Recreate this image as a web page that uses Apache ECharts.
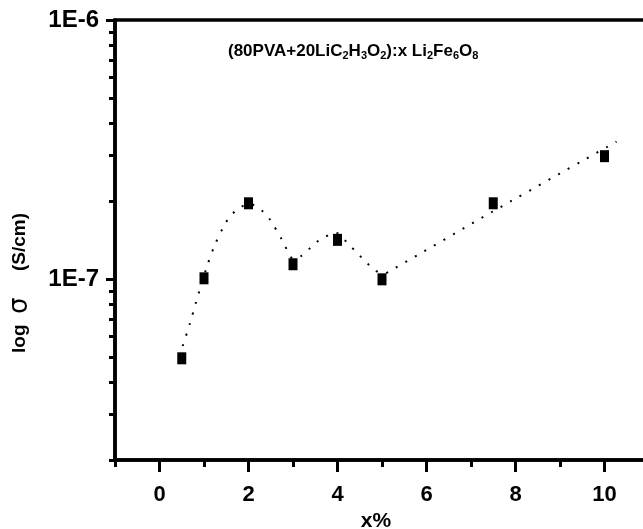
<!DOCTYPE html>
<html>
<head>
<meta charset="utf-8">
<script src="https://cdn.jsdelivr.net/npm/echarts@6/dist/echarts.min.js"></script>
<style>
html,body{margin:0;padding:0;background:#fff;}
#chart{width:643px;height:529px;}
</style>
</head>
<body>
<div id="chart"></div>
<script>
// measured points
const xValues = [0.5, 1, 2, 3, 4, 5, 7.5, 10];
const sigmaValues = [4.94e-8, 1.006e-7, 1.96e-7, 1.14e-7, 1.416e-7, 9.97e-8, 1.96e-7, 2.98e-7];

// dotted fit curve
const fitX = [0.521, 0.679, 0.827, 1.061, 1.240, 1.472, 1.629, 1.831, 2.034, 2.310, 2.490, 2.760, 3.02, 3.209, 3.404, 3.607, 3.966, 4.258, 4.445, 4.634, 4.827, 5.02, 5.218, 7.51, 10.27];
const fitY = [5.51e-8, 6.70e-8, 8.20e-8, 1.110e-7, 1.349e-7, 1.631e-7, 1.778e-7, 1.897e-7, 1.948e-7, 1.83e-7, 1.689e-7, 1.41e-7, 1.194e-7, 1.234e-7, 1.325e-7, 1.418e-7, 1.506e-7, 1.356e-7, 1.259e-7, 1.166e-7, 1.086e-7, 1.046e-7, 1.083e-7, 1.83e-7, 3.39e-7];

// ticks
const xMajorTicks = [0, 2, 4, 6, 8, 10];
const xTickLabels = ['0', '2', '4', '6', '8', '10'];
const xMinorTicks = [-1, 1, 3, 5, 7, 9, 11];
const yMajorTicks = [1e-7, 1e-6];
const yTickLabels = ['1E-7', '1E-6'];
const yMinorTicks = [2e-8, 3e-8, 4e-8, 5e-8, 6e-8, 7e-8, 8e-8, 9e-8, 2e-7, 3e-7, 4e-7, 5e-7, 6e-7, 7e-7, 8e-7, 9e-7];

const Y_MIN = 2e-8, Y_MAX = 1e-6;
const yMajorLog = yMajorTicks.map(v => Math.round(Math.log10(v) * 1000) / 1000);
const yMinorLog = yMinorTicks.map(v => Math.log10(v));

const chart = echarts.init(document.getElementById('chart'), null, {renderer: 'canvas'});

const axisColor = '#000';
const option = {
  animation: false,
  backgroundColor: '#fff',
  grid: {
    left: 115, top: 20, width: 534, height: 440,
    containLabel: false, outerBoundsMode: 'none',
    show: true, borderColor: axisColor, borderWidth: 3.5, backgroundColor: 'transparent'
  },
  xAxis: [
    {
      type: 'value', min: -1, max: 11, position: 'bottom',
      axisLine: {show: true, onZero: false, lineStyle: {color: axisColor, width: 3.5}},
      axisTick: {show: true, inside: false, length: 12, customValues: xMajorTicks, lineStyle: {color: axisColor, width: 3}},
      axisLabel: {
        customValues: xMajorTicks,
        formatter: v => { const i = xMajorTicks.indexOf(v); return i >= 0 ? xTickLabels[i] : ''; },
        color: '#000', fontFamily: 'Liberation Sans, Arial', fontWeight: 'bold', fontSize: 22, margin: 24
      },
      splitLine: {show: false},
      name: 'x%', nameLocation: 'middle', nameGap: 50,
      nameTextStyle: {color: '#000', fontFamily: 'Liberation Sans, Arial', fontWeight: 'bold', fontSize: 21, padding: [0, 12, 0, 0]}
    },
    {
      type: 'value', min: -1, max: 11, position: 'bottom',
      axisLine: {show: false, onZero: false},
      axisTick: {show: true, inside: false, length: 7, customValues: xMinorTicks, lineStyle: {color: axisColor, width: 3}},
      axisLabel: {show: false},
      splitLine: {show: false}
    }
  ],
  yAxis: [
    {
      type: 'log', logBase: 10, min: Y_MIN, max: Y_MAX, position: 'left',
      axisLine: {show: true, onZero: false, lineStyle: {color: axisColor, width: 3.5}},
      axisTick: {show: false},
      axisLabel: {show: false},
      minorTick: {show: false},
      splitLine: {show: false}
    },
    {
      type: 'value', min: Math.log10(Y_MIN), max: Math.log10(Y_MAX), position: 'left',
      axisLine: {show: false, onZero: false},
      axisTick: {show: true, inside: false, length: 9, customValues: yMajorLog, lineStyle: {color: axisColor, width: 3}},
      axisLabel: {
        customValues: yMajorLog,
        formatter: v => { const i = yMajorLog.findIndex(t => Math.abs(t - v) < 1e-6); return i >= 0 ? yTickLabels[i] : ''; },
        color: '#000', fontFamily: 'Liberation Sans, Arial', fontWeight: 'bold', fontSize: 24, margin: 16
      },
      splitLine: {show: false}
    },
    {
      type: 'value', min: Math.log10(Y_MIN), max: Math.log10(Y_MAX), position: 'left',
      axisLine: {show: false, onZero: false},
      axisTick: {show: true, inside: false, length: 6, customValues: yMinorLog, lineStyle: {color: axisColor, width: 3}},
      axisLabel: {show: false},
      splitLine: {show: false}
    }
  ],
  graphic: [
    {
      type: 'text', x: 228, y: 51,
      style: {
        text: '(80PVA+20LiC{s|2}H{s|3}O{s|2}):x Li{s|2}Fe{s|6}O{s|8}',
        fill: '#000', font: 'bold 17px "Liberation Sans", Arial',
        align: 'left', verticalAlign: 'middle',
        rich: {
          s: {fontSize: 11, fontWeight: 'bold', fontFamily: 'Liberation Sans', fill: '#000', padding: [9, 0, 0, 0], verticalAlign: 'bottom'}
        }
      },
      z: 10
    },
    {
      type: 'text', x: 20, y: 283, rotation: Math.PI / 2,
      style: {
        text: '{b|log  }{g|σ}{b|     (S/cm)}',
        fill: '#000', align: 'center', verticalAlign: 'middle',
        rich: {
          b: {fontSize: 19, fontWeight: 'bold', fontFamily: 'Liberation Sans', fill: '#000'},
          g: {fontSize: 26, fontWeight: 'normal', fontFamily: 'DejaVu Sans', fill: '#000'}
        }
      },
      z: 10
    }
  ],
  series: [
    {
      type: 'line', xAxisIndex: 0, yAxisIndex: 0,
      data: fitX.map((x, i) => [x, fitY[i]]),
      smooth: 0.3, showSymbol: false, symbol: 'none', silent: true,
      lineStyle: {color: '#000', width: 2, type: [2, 9]},
      z: 1
    },
    {
      type: 'scatter', xAxisIndex: 0, yAxisIndex: 0,
      data: xValues.map((x, i) => [x, sigmaValues[i]]),
      symbol: 'rect', symbolSize: [9, 12],
      itemStyle: {color: '#000', opacity: 1},
      z: 2
    }
  ]
};
chart.setOption(option);
</script>
</body>
</html>
